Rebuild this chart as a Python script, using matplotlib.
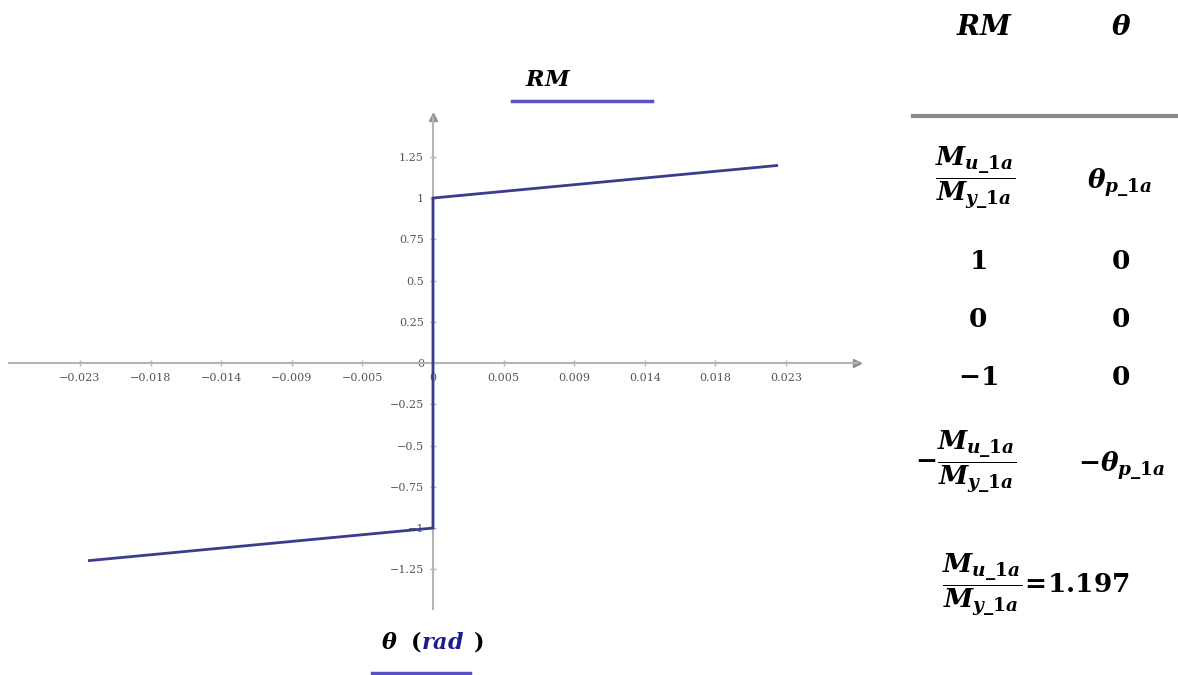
import matplotlib.pyplot as plt
from matplotlib.lines import Line2D

plt.rcParams['mathtext.fontset'] = 'custom'
plt.rcParams['mathtext.rm'] = 'DejaVu Serif:bold'
plt.rcParams['mathtext.it'] = 'DejaVu Serif:italic:bold'
plt.rcParams['mathtext.bf'] = 'DejaVu Serif:bold'

# --- données ---
ratio_Mu_My = 1.197
theta_p = 0.0219
RM = [ratio_Mu_My, 1, 0, -1, -ratio_Mu_My]
theta = [theta_p, 0, 0, 0, -theta_p]

x_ticks = [-0.0225, -0.018, -0.0135, -0.009, -0.0045, 0,
           0.0045, 0.009, 0.0135, 0.018, 0.0225]
x_labels = ["\u22120.023", "\u22120.018", "\u22120.014", "\u22120.009", "\u22120.005", "0",
            "0.005", "0.009", "0.014", "0.018", "0.023"]
y_ticks = [1.25, 1, 0.75, 0.5, 0.25, 0, -0.25, -0.5, -0.75, -1, -1.25]
y_labels = ["1.25", "1", "0.75", "0.5", "0.25", "0",
            "\u22120.25", "\u22120.5", "\u22120.75", "\u22121", "\u22121.25"]

W, H = 1178, 675
fig = plt.figure(figsize=(W / 100, H / 100), dpi=100)


def fx(px):
    return px / W


def fy(py):
    return 1 - py / H


# --- axes du graphe (style Mathcad, axes croisés) ---
ax = fig.add_axes([fx(9.4), fy(608.9), 847.2 / W, 491.7 / H])
ax.set_xlim(-0.027, 0.027)
ax.set_ylim(-1.49, 1.49)
axis_col = "#b4b4b4"
for s in ["top", "right"]:
    ax.spines[s].set_visible(False)
for s in ["left", "bottom"]:
    ax.spines[s].set_position(("data", 0))
    ax.spines[s].set_color(axis_col)
    ax.spines[s].set_linewidth(1.5)
ax.plot(1, 0, ">", color="#909090", ms=6, transform=ax.get_yaxis_transform(), clip_on=False)
ax.plot(0, 1, "^", color="#909090", ms=6, transform=ax.get_xaxis_transform(), clip_on=False)

ax.set_xticks(x_ticks)
ax.set_xticklabels(x_labels)
ax.set_yticks(y_ticks)
ax.set_yticklabels(y_labels)
ax.tick_params(direction="inout", length=5, width=1, color=axis_col,
               labelsize=8, labelcolor="#555555")
for lab in ax.get_xticklabels() + ax.get_yticklabels():
    lab.set_family("DejaVu Serif")
ax.tick_params(axis="x", pad=5)
ax.tick_params(axis="y", pad=4)
ax.patch.set_alpha(0)

ax.plot(theta, RM, color="#3b3b8f", lw=2, solid_joinstyle="miter", zorder=3)

# --- titre et légende d'axe avec soulignement ---
ul_col = "#5a52c4"
fig.text(fx(548), fy(80), r"$RM$", ha="center", va="center", fontsize=16)
fig.add_artist(Line2D([fx(512), fx(652)], [fy(101), fy(101)], color=ul_col, lw=2.5))

fig.text(fx(381), fy(649), r"$\theta$", ha="left", va="baseline", fontsize=16)
fig.text(fx(410), fy(649), r"$($", ha="left", va="baseline", fontsize=16)
fig.text(fx(421), fy(649), r"$rad$", ha="left", va="baseline", fontsize=16, color="#1c1c8c")
fig.text(fx(473), fy(649), r"$)$", ha="left", va="baseline", fontsize=16)
fig.add_artist(Line2D([fx(372), fx(470)], [fy(673), fy(673)], color=ul_col, lw=2.5))

# --- tableau à droite ---
frac = r"\dfrac{M_{u\_1a}}{M_{y\_1a}}"
fs = 19
fig.text(fx(985), fy(27), r"$RM$", ha="center", va="center", fontsize=20)
fig.text(fx(1121), fy(27), r"$\theta$", ha="center", va="center", fontsize=20)
fig.add_artist(Line2D([fx(913), fx(1178)], [fy(116), fy(116)], color="#8a8a8a", lw=3))

fig.text(fx(975), fy(178), "$" + frac + "$", ha="center", va="center", fontsize=fs)
fig.text(fx(1120), fy(182), r"$\theta_{p\_1a}$", ha="center", va="center", fontsize=fs)
rows_RM = ["1", "0", "\u22121"]
rows_th = ["0", "0", "0"]
for i, (a, b) in enumerate(zip(rows_RM, rows_th)):
    y = 262 + 58 * i
    fig.text(fx(978), fy(y), "$" + a + "$", ha="center", va="center", fontsize=fs)
    fig.text(fx(1121), fy(y), "$" + b + "$", ha="center", va="center", fontsize=fs)
fig.text(fx(966), fy(462), "$-" + frac + "$", ha="center", va="center", fontsize=fs)
fig.text(fx(1122), fy(465), r"$-\theta_{p\_1a}$", ha="center", va="center", fontsize=fs)

fig.text(fx(1036), fy(585), "$" + frac + "\\!=\\!" + f"{ratio_Mu_My:.3f}" + "$",
         ha="center", va="center", fontsize=fs)

fig.savefig("out.png", dpi=100)
